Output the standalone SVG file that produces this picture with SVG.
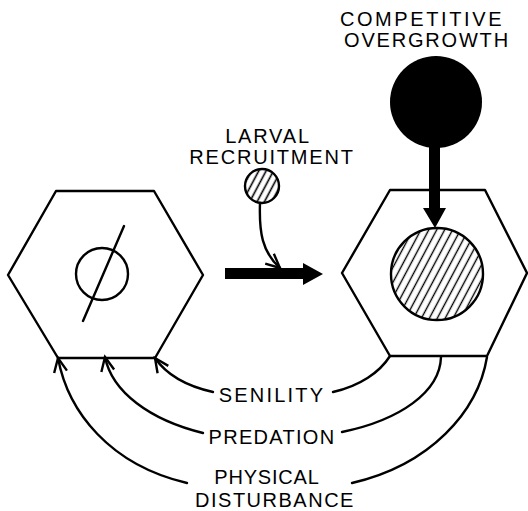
<svg xmlns="http://www.w3.org/2000/svg" width="528" height="511" viewBox="0 0 528 511">
<style>
.ln{fill:none;stroke:#000;stroke-width:2.4;stroke-linejoin:round;stroke-linecap:round}
.lbl{font-family:"Liberation Sans",Arial,sans-serif;font-size:20px;fill:#000;text-anchor:middle;letter-spacing:1.8px}
</style>
<defs>
<pattern id="hatch" width="7" height="7" patternUnits="userSpaceOnUse" patternTransform="rotate(28)">
<line x1="3.5" y1="0" x2="3.5" y2="7" stroke="#000" stroke-width="1.4"/>
</pattern>
<pattern id="hatchS" width="6.5" height="6.5" patternUnits="userSpaceOnUse" patternTransform="rotate(28)">
<line x1="3.2" y1="0" x2="3.2" y2="6.5" stroke="#000" stroke-width="1.6"/>
</pattern>
<marker id="open" markerWidth="18" markerHeight="16" refX="15" refY="8" orient="auto" markerUnits="userSpaceOnUse" viewBox="0 0 18 16">
<path d="M1,1.5 L15,8 L1,14.5" fill="none" stroke="#000" stroke-width="2.4"/>
</marker>
</defs>
<rect width="528" height="511" fill="#fff"/>

<g id="left-hex">
<polygon class="ln" points="56,191 154,191 203,275 155,358 58,358 8,275"/>
<circle class="ln" cx="102" cy="274" r="26"/>
<line class="ln" x1="124" y1="226" x2="83" y2="321"/>
</g>

<g id="right-hex">
<polygon class="ln" points="390,190 485,190 527,273 487,356 390,356 342,273"/>
<circle cx="437" cy="274" r="46" fill="url(#hatch)" stroke="#000" stroke-width="2.4"/>
</g>

<g id="larval">
<text class="lbl" x="268" y="143">LARVAL</text>
<text class="lbl" x="272" y="164">RECRUITMENT</text>
<circle cx="262" cy="186" r="17" fill="url(#hatchS)" stroke="#000" stroke-width="2.4"/>
</g>

<g id="competitive">
<text class="lbl" x="422" y="26" style="letter-spacing:2.6px">COMPETITIVE</text>
<text class="lbl" x="427" y="47">OVERGROWTH</text>
<circle cx="436" cy="102" r="46" fill="#000"/>
</g>

<g id="labels">
<text class="lbl" x="272" y="402" style="letter-spacing:2.2px">SENILITY</text>
<text class="lbl" x="272" y="444" style="letter-spacing:1.3px">PREDATION</text>
<text class="lbl" x="267" y="484" style="letter-spacing:0.8px">PHYSICAL</text>
<text class="lbl" x="275" y="507" style="letter-spacing:1.5px">DISTURBANCE</text>
</g>

<g id="connectors">
<polygon points="225,268 303,268 303,263 323,274 303,285 303,279 225,279" fill="#000"/>
<polygon points="429,140 440,140 440,208 446,208 435,228 423,208 429,208" fill="#000"/>
<path class="ln" d="M260,203 C259,232 262,252 280,268" marker-end="url(#open)"/>
<path class="ln" d="M213,392 C186,386 166,374 155,358" marker-end="url(#open)"/>
<path class="ln" d="M333,392 C360,386 380,372 390,356"/>
<path class="ln" d="M203,433 C150,420 112,392 105,357" marker-end="url(#open)"/>
<path class="ln" d="M342,432 C400,420 440,392 441,357"/>
<path class="ln" d="M187,483 C110,465 68,412 58,358" marker-end="url(#open)"/>
<path class="ln" d="M352,483 C430,465 478,412 487,357"/>
</g>
</svg>
